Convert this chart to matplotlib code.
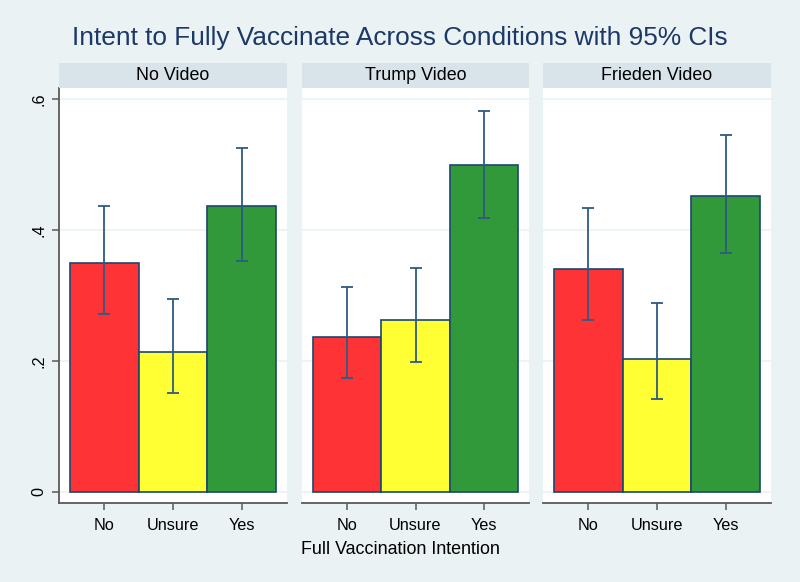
import matplotlib
matplotlib.use("Agg")
import matplotlib.pyplot as plt
from matplotlib.patches import Rectangle
import numpy as np

plt.rcParams['font.family'] = ['Liberation Sans', 'DejaVu Sans']

conditions = ["No Video", "Trump Video", "Frieden Video"]
categories = ["No", "Unsure", "Yes"]
means = {
    "No Video":      [0.349, 0.213, 0.436],
    "Trump Video":   [0.236, 0.263, 0.499],
    "Frieden Video": [0.340, 0.203, 0.452],
}
ci_low = {
    "No Video":      [0.271, 0.151, 0.353],
    "Trump Video":   [0.174, 0.198, 0.419],
    "Frieden Video": [0.262, 0.142, 0.365],
}
ci_high = {
    "No Video":      [0.437, 0.295, 0.525],
    "Trump Video":   [0.313, 0.342, 0.582],
    "Frieden Video": [0.433, 0.288, 0.545],
}
yticks = [0, 0.2, 0.4, 0.6]
ytick_labels = ["0", ".2", ".4", ".6"]
bar_colors = ["#fe3336", "#ffff33", "#31993a"]

bg = "#eaf2f3"
strip = "#d8e4ea"
navy = "#1a476f"
title_col = "#1c3868"
ebar = "#2e5a86"
axis_col = "#5a5a5a"

W, H = 800, 582
fig = plt.figure(figsize=(8, 5.82), dpi=100, facecolor=bg)

panels_px = [(59, 287), (302, 529), (543, 771)]
ax_top, ax_bot = 88, 502.7
strip_top = 63

x = np.arange(len(categories))
for i, (cond, (xl, xr)) in enumerate(zip(conditions, panels_px)):
    ax = fig.add_axes([xl / W, (H - ax_bot) / H, (xr - xl) / W, (ax_bot - ax_top) / H])
    ax.set_facecolor("white")
    ax.set_xlim(-0.66, 2.66)
    ax.set_ylim(-0.0168, 0.617)
    ax.set_yticks(yticks)
    ax.grid(axis='y', color=bg, linewidth=1.2, zorder=0)
    ax.set_axisbelow(True)
    m = np.array(means[cond])
    lo = np.array(ci_low[cond])
    hi = np.array(ci_high[cond])
    ax.bar(x, m, width=1.0, color=bar_colors, edgecolor=navy, linewidth=1.2, zorder=2)
    ax.errorbar(x, m, yerr=[m - lo, hi - m], fmt='none', ecolor=ebar,
                elinewidth=1.3, capsize=4, capthick=1.3, zorder=3)
    for s in ['top', 'right']:
        ax.spines[s].set_visible(False)
    ax.spines['bottom'].set_color(axis_col)
    ax.spines['bottom'].set_linewidth(1.3)
    ax.set_xticks(x)
    ax.set_xticklabels(categories, fontsize=11.7)
    ax.tick_params(axis='x', length=5, width=1.1, color=axis_col, pad=6)
    if i == 0:
        ax.spines['left'].set_color(axis_col)
        ax.spines['left'].set_linewidth(1.3)
        ax.set_yticklabels(ytick_labels, fontsize=11.7, rotation=90, va='center')
        ax.tick_params(axis='y', length=5, width=1.1, color=axis_col, pad=4)
    else:
        ax.spines['left'].set_visible(False)
        ax.tick_params(axis='y', length=0, labelleft=False)
    # strip header
    fig.patches.append(Rectangle((xl / W, (H - ax_top) / H), (xr - xl) / W,
                                 (ax_top - strip_top) / H, transform=fig.transFigure,
                                 facecolor=strip, edgecolor='none'))
    fig.text((xl + xr) / 2 / W, (H - (ax_top + strip_top) / 2) / H, cond,
             ha='center', va='center', fontsize=12.9, color='black')

fig.text(400 / W, (H - 38) / H, "Intent to Fully Vaccinate Across Conditions with 95% CIs",
         ha='center', va='center', fontsize=18.9, color=title_col)
fig.text(400 / W, (H - 550) / H, "Full Vaccination Intention",
         ha='center', va='center', fontsize=12.9, color='black')

fig.savefig("out.png", dpi=100, facecolor=bg)
